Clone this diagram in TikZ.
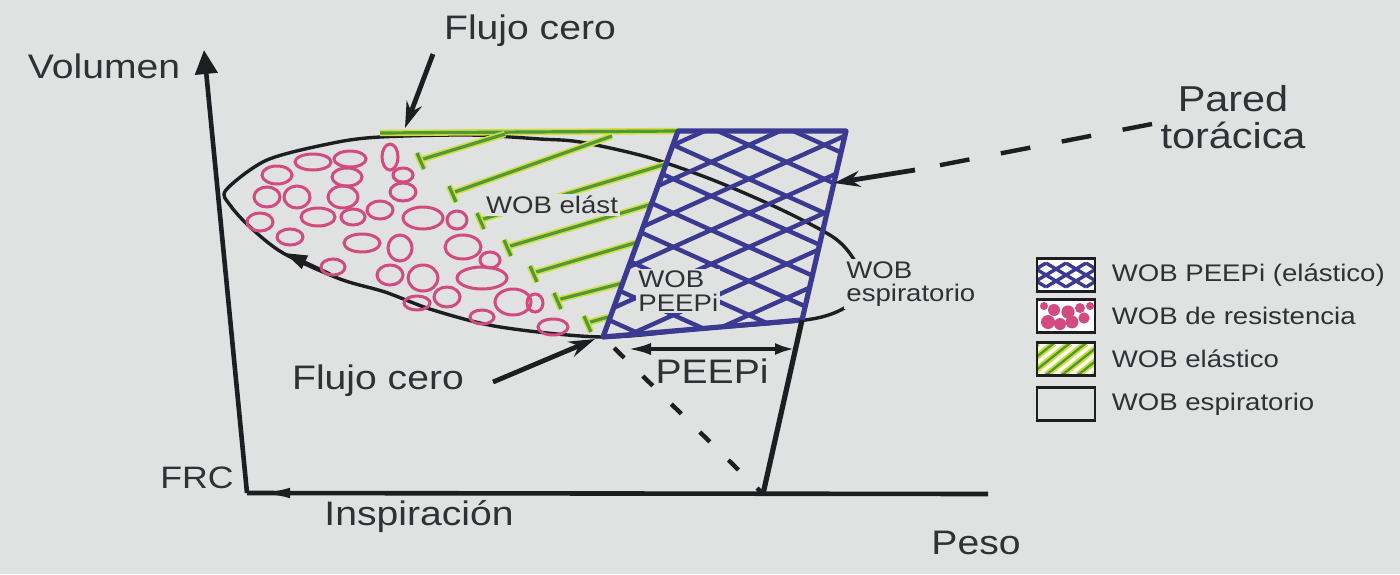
\documentclass[tikz,border=0pt]{standalone}
\usepackage{fontspec}
\setmainfont[FakeStretch=1.15]{Liberation Sans}
\usetikzlibrary{arrows.meta,positioning,calc}
\definecolor{paper}{HTML}{DFE2E0}
\definecolor{ink}{HTML}{1D1E22}
\definecolor{labelgray}{HTML}{2F3134}
\definecolor{peepblue}{HTML}{3B3A92}
\definecolor{respink}{HTML}{D24A80}
\definecolor{elgreen}{HTML}{4E9A3A}
\definecolor{elyellow}{HTML}{D2DC3C}

\begin{document}
\begin{tikzpicture}[
   x=0.5pt, y=-0.5pt,
   biglabel/.style={text=labelgray, font=\fontsize{17}{18.5}\selectfont, inner sep=1pt},
   smalllabel/.style={text=labelgray, font=\fontsize{12}{11.8}\selectfont, inner sep=1pt,
      align=left, fill=paper},
   axisline/.style={ink, line width=2.3pt},
   loopline/.style={ink, line width=1.7pt},
   pointer/.style={ink, line width=2.4pt, -{Stealth[length=13pt,width=8pt]}},
   bubble/.style={respink, line width=1.5pt},
   elhatch/.style={preaction={draw=elyellow, line width=3.2pt}, draw=elgreen, line width=1.6pt},
   peephatch/.style={peepblue, line width=2.2pt},
   legbox/.style={draw=ink, line width=1.4pt, minimum width=29pt, minimum height=16.5pt,
      inner sep=0pt},
   legtext/.style={text=labelgray, font=\fontsize{12}{14}\selectfont, inner sep=1pt}
]
\fill[paper] (0,0) rectangle (1400,574);
\useasboundingbox (0,0) rectangle (1400,574);

\coordinate (O) at (247,493);
\coordinate (Vtop) at (204,50);
\coordinate (Xend) at (988,494);
\coordinate (Xtip) at (250,493);
\coordinate (Xtail) at (312,493);
\coordinate (B) at (603,337);
\coordinate (TL) at (678,131);
\coordinate (TR) at (846,131);
\coordinate (BR) at (802,320);
\coordinate (W) at (763,494);

\draw[axisline, -{Triangle[length=12pt,width=11pt]}] (O) -- (Vtop);
\draw[axisline] (O) -- (Xend);
\draw[axisline, -{Latex[length=20pt,width=5pt]}] (Xtail) -- (Xtip);

\draw[loopline] plot[smooth cycle, tension=0.5] coordinates {(226,190) (267,160) (333,143)
   (380,137) (470,135) (540,139) (580,142) (647,157) (713,180) (780,209) (833,237) (853,258)
   (862,281) (852,303) (812,319) (700,329) (603,337) (500,327) (433,310) (385,292) (340,279)
   (283,253) (250,227) (230,205)};
\draw[loopline, -{Triangle[length=11pt,width=7pt]}] (330,274) -- (285,253);

\foreach \cx/\cy/\rx/\ry in {313/162/18/8, 350/159/16/8, 390/157/8/13, 277/175/15/9,
   347/177/15/9, 403/175/10/7, 267/197/13/10, 297/197/13/11, 343/197/15/11, 403/192/13/9,
   260/222/13/9, 318/217/17/9, 353/217/12/8, 380/210/13/9, 423/218/20/11, 457/220/10/9,
   290/237/13/8, 362/243/18/9, 400/248/12/13, 463/247/18/12, 490/260/10/8, 333/267/12/8,
   390/275/13/10, 423/278/15/13, 482/278/25/11, 447/297/13/10, 417/303/13/7, 513/302/18/13,
   535/303/8/9, 482/317/12/7, 553/327/15/8}
   \draw[bubble] (\cx,\cy) ellipse [x radius=\rx, y radius=\ry];

\draw[elhatch] (380,133) -- (TL);
\foreach \sx/\sy/\ex/\ey in {420/160/505/134, 452/193/612/136, 480/220/666/164,
   507/247/652/204, 533/273/638/242, 557/300/623/283, 587/323/608/317} {
   \draw[elhatch] (\sx,\sy) -- (\ex,\ey);
   \draw[elhatch] (\sx-3,\sy-7) -- (\sx+4,\sy+9);
}

\begin{scope}
\clip (B) -- (TL) -- (TR) -- (BR) -- cycle;
\foreach \k in {-3,...,12} {
   \draw[peephatch] (560,60+\k*34) -- ++(320,144);
   \draw[peephatch] (560,60+\k*34) -- ++(320,-144);
}
\end{scope}
\draw[peepblue, line width=2.6pt, line join=round] (B) -- (TL) -- (TR) -- (BR) -- cycle;

\draw[ink, line width=2.6pt] (BR) -- (W);
\draw[ink, line width=2.2pt, dash pattern=on 7pt off 13pt] ($(B)!0.07!(W)$) -- (W);

\coordinate (pL) at (627,349);
\coordinate (pR) at (795,349);
\draw[ink, line width=2pt, {Latex[length=12pt,width=6pt]}-{Latex[length=10pt,width=6pt]}]
   (pL) -- (pR);

\coordinate (fcTopTail) at (433,54);
\coordinate (fcTopTip) at (405,128);
\coordinate (fcLowTail) at (493,382);
\coordinate (fcLowTip) at (595,339);
\draw[pointer] (fcTopTail) -- (fcTopTip);
\draw[pointer] (fcLowTail) -- (fcLowTip);

\coordinate (pwTail) at (1152,124);
\coordinate (pwMid) at (915,170);
\coordinate (pwTip) at (834,183);
\draw[ink, line width=2.2pt, dash pattern=on 15pt off 16pt] (pwTail) -- (pwMid);
\draw[pointer] (pwMid) -- (pwTip);

\node[biglabel] (vol) at (104,66) {Volumen};
\node[biglabel] (fcTop) at (530,31) {Flujo cero};
\node[biglabel] (fcLow) at (378,381) {Flujo cero};
\node[biglabel, font=\fontsize{15.5}{17}\selectfont] (frc) at (197,478) {FRC};
\node[biglabel] (insp) at (419,516) {Inspiración};
\node[biglabel] (peso) at (976,543) {Peso};
\node[biglabel, align=center, font=\fontsize{18}{18.5}\selectfont] (pared) at (1233,117)
   {Pared\\torácica};
\node[biglabel] (peepi) at (712,371) {PEEPi};

\node[smalllabel] (wobEl) at (552,205) {WOB elást};
\node[smalllabel, anchor=west] (wobPeep) at (636,291) {WOB\\PEEPi};
\node[smalllabel, anchor=west] (wobEsp) at (844,284) {WOB\\espiratorio};

\node[legbox, fill=white, path picture={
   \foreach \i in {-3,...,3}
      \draw[peephatch, line width=1.7pt] ($(path picture bounding box.center)+(\i*10pt,0pt)$)
         +(-10pt,-6pt) -- +(10pt,6pt) +(-10pt,6pt) -- +(10pt,-6pt);
   }] (lgPeep) at (1066,275) {};
\node[legbox, fill=white, path picture={
   \foreach \dx/\dy/\r in {-9/-3/3.5, -3/-4/3, 3/-3/3.2, 9/-1/2.8, -6/3/3, 1/2/3.3, 7/4/2.5,
      -11/5/2, 12/5/2}
      \fill[respink] ($(path picture bounding box.center)+(\dx pt,\dy pt)$) circle (\r pt);
   }] (lgRes) at (1066,316) {};
\node[legbox, fill=white, path picture={
   \foreach \i in {-3,...,3}
      \draw[elhatch, line width=1.2pt] ($(path picture bounding box.center)+(\i*8pt,0pt)$)
         +(-10pt,-8pt) -- +(10pt,8pt);
   }] (lgEl) at (1066,359) {};
\node[legbox] (lgEsp) at (1066,404) {};

\node[legtext, right=6.5pt of lgPeep] (lgPeepTxt) {WOB PEEPi (elástico)};
\node[legtext, right=6.5pt of lgRes] (lgResTxt) {WOB de resistencia};
\node[legtext, right=6.5pt of lgEl] (lgElTxt) {WOB elástico};
\node[legtext, right=6.5pt of lgEsp] (lgEspTxt) {WOB espiratorio};
\end{tikzpicture}
\end{document}
